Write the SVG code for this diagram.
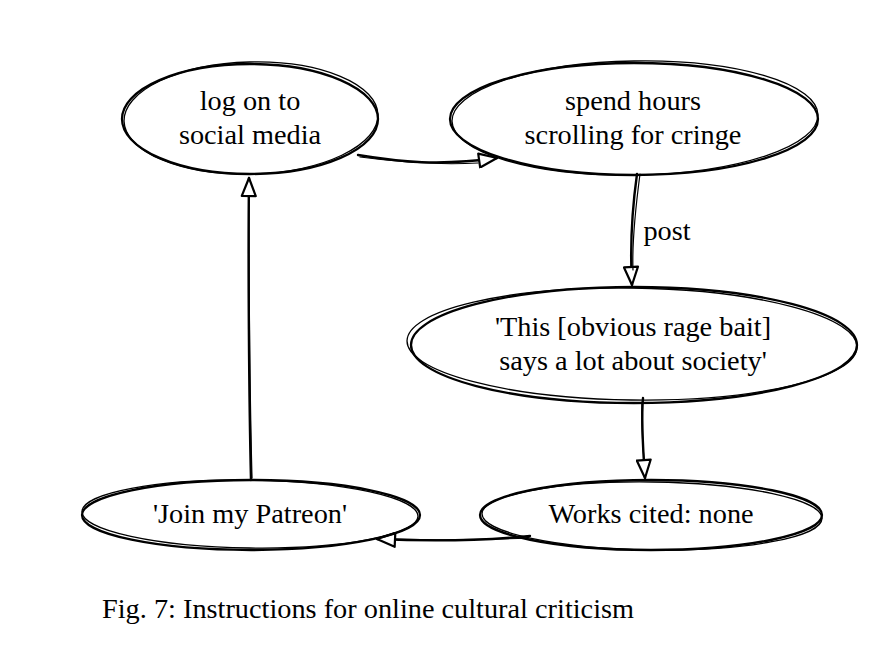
<svg xmlns="http://www.w3.org/2000/svg" width="890" height="669" viewBox="0 0 890 669">
<style>
.bg{fill:#fff}
.sh{fill:none;stroke:#000;stroke-width:2.3;stroke-linecap:round}
.sh2{fill:none;stroke:#000;stroke-width:1.3;stroke-linecap:round}
.ln{fill:none;stroke:#000;stroke-width:2.4;stroke-linecap:round}
.ln2{fill:none;stroke:#000;stroke-width:1.2;stroke-linecap:round}
text{font-family:'Liberation Serif','Times New Roman',serif;font-size:28.3px;fill:#000}
.t{text-anchor:middle}
</style>
<defs>
<marker id="ah" markerUnits="userSpaceOnUse" markerWidth="24" markerHeight="18" refX="19" refY="8" orient="auto" viewBox="-2 -2 24 18">
<path d="M1,1 L19,8 L1,15 Z" fill="#fff" stroke="#000" stroke-width="2.2" stroke-linejoin="round"/>
</marker>
</defs>
<rect class="bg" x="0" y="0" width="890" height="669"/>
<g id="connectors">
<path class="ln" d="M358,155 C400,162 440,166 497,158" marker-end="url(#ah)"/>
<path class="ln2" d="M360,157 C405,163 445,165 478,163"/>
<path class="ln" d="M637,174 C632,210 630,250 632,285" marker-end="url(#ah)"/>
<path class="ln2" d="M640,174 C635,212 632,245 633,270"/>
<text class="t" x="667" y="240">post</text>
<path class="ln" d="M643,398 C641,420 643,450 645,478" marker-end="url(#ah)"/>
<path class="ln2" d="M642,402 C641,425 643,445 644,460"/>
<path class="ln" d="M530,536 C480,541 420,541 377,539" marker-end="url(#ah)"/>
<path class="ln2" d="M528,538 C480,540 430,540 395,539"/>
<path class="ln" d="M251,480 C249,400 248,260 249,178" marker-end="url(#ah)"/>
<path class="ln2" d="M252,478 C250,400 249,270 249,200"/>
</g>
<g id="node-logon">
<ellipse class="sh" cx="250" cy="119" rx="128" ry="55"/>
<ellipse class="sh2" cx="251" cy="118" rx="127" ry="56" transform="rotate(-1.5 251 118)"/>
<text class="t" x="250" y="110">log on to</text>
<text class="t" x="250" y="144">social media</text>
</g>
<g id="node-scroll">
<ellipse class="sh" cx="634" cy="119" rx="184" ry="56"/>
<ellipse class="sh2" cx="635" cy="118" rx="183" ry="57" transform="rotate(-1 635 118)"/>
<text class="t" x="633" y="110">spend hours</text>
<text class="t" x="633" y="144">scrolling for cringe</text>
</g>
<g id="node-ragebait">
<ellipse class="sh" cx="634" cy="345" rx="223" ry="58"/>
<ellipse class="sh2" cx="632" cy="344" rx="225" ry="56" transform="rotate(0.8 632 344)"/>
<text class="t" x="633" y="336">'This [obvious rage bait]</text>
<text class="t" x="633" y="370">says a lot about society'</text>
</g>
<g id="node-works">
<ellipse class="sh" cx="651" cy="515" rx="171" ry="35"/>
<ellipse class="sh2" cx="652" cy="516" rx="170" ry="34" transform="rotate(0.8 652 516)"/>
<text class="t" x="651" y="523">Works cited: none</text>
</g>
<g id="node-patreon">
<ellipse class="sh" cx="251" cy="515" rx="169" ry="35"/>
<ellipse class="sh2" cx="250" cy="514" rx="168" ry="34" transform="rotate(0.8 250 514)"/>
<text class="t" x="250" y="523">'Join my Patreon'</text>
</g>
<text x="102" y="618">Fig. 7: Instructions for online cultural criticism</text>
</svg>
